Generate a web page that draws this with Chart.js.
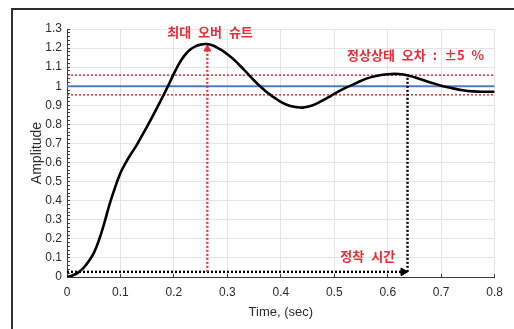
<!DOCTYPE html>
<html>
<head>
<meta charset="utf-8">
<script src="https://cdn.jsdelivr.net/npm/chart.js@4.4.0/dist/chart.umd.min.js"></script>
<style>
    html, body { margin: 0; padding: 0; background: #fff; overflow: hidden; }
    #marco { position: absolute; left: 11px; top: 8px; width: 600px; height: 400px;
             border-top: 2px solid #2e2e2e; border-left: 2px solid #2e2e2e; }
    #caja { position: absolute; left: 0; top: 0; width: 514px; height: 329px; }
</style>
</head>
<body>
<div id="marco"></div>
<div id="caja"><canvas id="graficoRespuesta" width="514" height="329"></canvas></div>
<script>
// datos
const tiempo = [0, 0.01, 0.02, 0.03, 0.04, 0.05, 0.06, 0.07, 0.08, 0.09, 0.10,
    0.11, 0.12, 0.13, 0.14, 0.15, 0.16, 0.17, 0.18, 0.19, 0.20,
    0.21, 0.22, 0.23, 0.24, 0.25, 0.26, 0.27, 0.28, 0.29, 0.30,
    0.31, 0.32, 0.33, 0.34, 0.35, 0.36, 0.37, 0.38, 0.39, 0.40,
    0.41, 0.42, 0.43, 0.44, 0.45, 0.46, 0.47, 0.48, 0.49, 0.50,
    0.52, 0.54, 0.56, 0.58, 0.60, 0.62, 0.64, 0.66, 0.68, 0.70,
    0.72, 0.74, 0.76, 0.78, 0.80];
const amplitud = [0, 0.008, 0.022, 0.045, 0.08, 0.125, 0.195, 0.285, 0.385, 0.47, 0.545,
    0.6, 0.646, 0.69, 0.74, 0.79, 0.842, 0.896, 0.95, 1.007, 1.066,
    1.12, 1.162, 1.191, 1.209, 1.218, 1.221, 1.216, 1.204, 1.188, 1.168,
    1.145, 1.118, 1.09, 1.06, 1.03, 1.003, 0.978, 0.956, 0.936, 0.918,
    0.904, 0.895, 0.89, 0.888, 0.892, 0.9, 0.913, 0.928, 0.944, 0.96,
    0.99, 1.015, 1.04, 1.055, 1.063, 1.064, 1.055, 1.038, 1.02, 1.003,
    0.99, 0.979, 0.973, 0.971, 0.971];

const valorFinal = 1.0;
const bandaSuperior = 1.058;
const bandaInferior = 0.955;
const tiempoPico = 0.2625;
const alturaFlechaPico = 1.195;
const tiempoEstablecimiento = 0.637;
const alturaBase = 0.027;
const alturaEstablecimiento = 1.055;

const etiquetasX = ['0', '0.1', '0.2', '0.3', '0.4', '0.5', '0.6', '0.7', '0.8'];
const etiquetasY = ['0', '0.1', '0.2', '0.3', '0.4', '0.5', '0.6', '0.7', '0.8', '0.9', '1', '1.1', '1.2', '1.3'];

const textos = [
    {texto: '최대 오버 슈트', x: 0.2675, y: 1.286},
    {texto: '정상상태 오차 : ±5 %', x: 0.652, y: 1.165},
    {texto: '정착 시간', x: 0.5625, y: 0.109}
];

const ROJO = '#ee2a36';

const puntosCurva = tiempo.map((t, i) => ({x: t, y: amplitud[i]}));

// escribe las anotaciones en rojo
const pluginTextos = {
    id: 'textos',
    afterDatasetsDraw(chart) {
        const ctx = chart.ctx;
        const {x, y} = chart.scales;
        ctx.save();
        ctx.fillStyle = ROJO;
        ctx.font = 'bold 13px "Noto Sans CJK KR"';
        ctx.textAlign = 'center';
        ctx.textBaseline = 'middle';
        ctx.wordSpacing = '4px';
        textos.forEach(t => {
            ctx.fillText(t.texto, x.getPixelForValue(t.x), y.getPixelForValue(t.y));
        });
        ctx.restore();
    }
};

function lineaPunteada(datos, color, ancho, orden) {
    return {
        data: datos,
        borderColor: color,
        borderWidth: ancho,
        borderDash: [2, 2],
        pointRadius: 0,
        fill: false,
        tension: 0,
        order: orden
    };
}

new Chart(document.getElementById('graficoRespuesta'), {
    type: 'line',
    data: {
        datasets: [
            {
                data: puntosCurva,
                borderColor: '#000',
                borderWidth: 2.6,
                pointRadius: 0,
                fill: false,
                tension: 0.4,
                order: 0
            },
            {
                data: [{x: 0, y: valorFinal}, {x: 0.8, y: valorFinal}],
                borderColor: '#4a7dc4',
                borderWidth: 2,
                pointRadius: 0,
                order: 3
            },
            lineaPunteada([{x: 0, y: bandaSuperior}, {x: 0.8, y: bandaSuperior}], ROJO, 1.5, 2),
            lineaPunteada([{x: 0, y: bandaInferior}, {x: 0.8, y: bandaInferior}], ROJO, 1.5, 2),
            lineaPunteada([{x: tiempoPico, y: alturaBase}, {x: tiempoPico, y: alturaFlechaPico}], ROJO, 2.2, 1),
            lineaPunteada([{x: 0, y: alturaBase}, {x: tiempoEstablecimiento - 0.005, y: alturaBase}], '#000', 2.4, 1),
            lineaPunteada([{x: tiempoEstablecimiento, y: alturaBase}, {x: tiempoEstablecimiento, y: alturaEstablecimiento}], '#000', 2.4, 1),
            {
                data: [{x: tiempoPico, y: alturaFlechaPico}],
                showLine: false,
                pointStyle: 'triangle',
                pointRadius: 4,
                backgroundColor: ROJO,
                borderColor: ROJO,
                borderWidth: 1,
                order: 1
            },
            {
                data: [{x: tiempoEstablecimiento - 0.008, y: alturaBase}],
                showLine: false,
                pointStyle: 'triangle',
                rotation: 90,
                pointRadius: 4.5,
                backgroundColor: '#000',
                borderColor: '#000',
                borderWidth: 1,
                order: 1
            }
        ]
    },
    options: {
        responsive: false,
        animation: false,
        layout: {padding: {left: 0, top: 29, right: 14, bottom: 0}},
        plugins: {
            legend: {display: false},
            tooltip: {enabled: false}
        },
        scales: {
            x: {
                type: 'linear',
                min: 0,
                max: 0.8,
                afterFit: s => { s.height = 52; },
                border: {color: '#3a3a3a', width: 1},
                grid: {color: '#e4e4e4', tickColor: '#3a3a3a', tickLength: -3},
                ticks: {
                    stepSize: 0.1,
                    padding: 11,
                    color: '#2b2b2b',
                    font: {family: '"Liberation Sans", Arial', size: 12},
                    maxRotation: 0,
                    autoSkip: false,
                    callback: v => etiquetasX[Math.round(v * 10)]
                },
                title: {
                    display: true,
                    text: 'Time, (sec)',
                    color: '#2b2b2b',
                    font: {family: '"Liberation Sans", Arial', size: 13},
                    padding: {top: 0, bottom: 9}
                }
            },
            y: {
                min: 0,
                max: 1.3,
                afterFit: s => { s.width = 67; },
                border: {color: '#3a3a3a', width: 1},
                grid: {
                    color: c => Math.round(c.tick.value * 100) % 10 === 0 ? '#e4e4e4' : 'rgba(0,0,0,0)',
                    tickColor: '#3a3a3a',
                    tickLength: -3
                },
                ticks: {
                    stepSize: 0.02,
                    padding: 8,
                    color: '#2b2b2b',
                    font: {family: '"Liberation Sans", Arial', size: 12},
                    autoSkip: false,
                    callback: v => Math.round(v * 100) % 10 === 0 ? etiquetasY[Math.round(v * 10)] : ''
                },
                title: {
                    display: true,
                    text: 'Amplitude',
                    color: '#2b2b2b',
                    font: {family: '"Liberation Sans", Arial', size: 14},
                    padding: {top: 29, bottom: 0}
                }
            }
        }
    },
    plugins: [pluginTextos]
});
</script>
</body>
</html>
